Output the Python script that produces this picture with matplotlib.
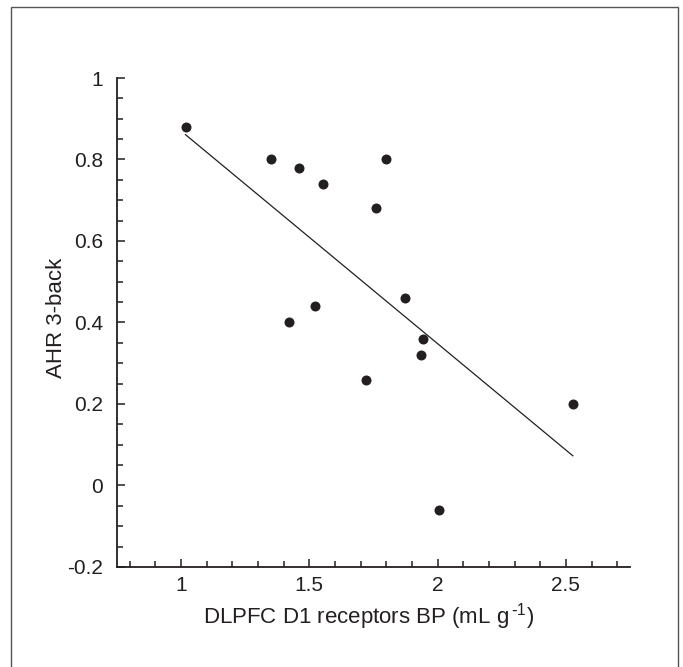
import matplotlib
matplotlib.use('Agg')
import matplotlib.pyplot as plt
from matplotlib.patches import Rectangle
from matplotlib.ticker import MultipleLocator

plt.rcParams['font.family'] = ['Liberation Sans', 'DejaVu Sans']
plt.rcParams['mathtext.default'] = 'regular'

# data
bp = [1.02, 1.35, 1.46, 1.554, 1.80, 1.761, 1.872, 1.523, 1.421,
      1.942, 1.934, 1.72, 2.527, 2.006]
ahr = [0.88, 0.80, 0.78, 0.74, 0.80, 0.68, 0.46, 0.44, 0.40,
       0.36, 0.32, 0.26, 0.20, -0.06]

# regression line end points
fit_x = [1.017, 2.527]
fit_y = [0.861, 0.073]

xticks = [1, 1.5, 2, 2.5]
yticks = [-0.2, 0, 0.2, 0.4, 0.6, 0.8, 1]
ytick_labels = ['-0.2', '0', '0.2', '0.4', '0.6', '0.8', '1']

fig = plt.figure(figsize=(6.83, 6.67), dpi=100)
ax = fig.add_axes([117 / 683, 1 - 567 / 667, 513 / 683, 489 / 667])

# outer frame (bottom edge runs off the image)
fig.patches.append(Rectangle((11 / 683, -0.05), 667 / 683, 1.05 - 7 / 667,
                             transform=fig.transFigure, fill=False,
                             edgecolor='#555555', linewidth=1.0))

ax.plot(fit_x, fit_y, color='#231f20', linewidth=0.9)
ax.plot(bp, ahr, 'o', color='#231f20', markersize=7.2, markeredgewidth=0)

ax.set_xlim(0.75, 2.75)
ax.set_ylim(-0.2, 1)
ax.set_xticks(xticks)
ax.set_xticklabels(['1', '1.5', '2', '2.5'])
ax.set_yticks(yticks)
ax.set_yticklabels(ytick_labels)
ax.xaxis.set_minor_locator(MultipleLocator(0.1))
ax.yaxis.set_minor_locator(MultipleLocator(0.05))

for s in ['top', 'right']:
    ax.spines[s].set_visible(False)
for s in ['left', 'bottom']:
    ax.spines[s].set_linewidth(1.3)
    ax.spines[s].set_color('#231f20')

ax.tick_params(which='major', direction='in', length=6, width=1.1,
               color='#231f20', labelsize=15, labelcolor='#231f20')
ax.tick_params(which='minor', direction='in', length=4, width=1.1,
               color='#231f20')
ax.tick_params(axis='y', which='major', pad=10)
ax.tick_params(axis='x', which='major', pad=6.5)

ax.set_xlabel('DLPFC D1 receptors BP (mL g$^{\\,\\text{-}1}$)', fontsize=16,
              color='#231f20')
ax.set_ylabel('AHR 3-back', fontsize=16, color='#231f20')
ax.xaxis.set_label_coords(0.49, -0.0695)
ax.yaxis.set_label_coords(-0.097, 0.51)

fig.savefig('out.png', dpi=100)
